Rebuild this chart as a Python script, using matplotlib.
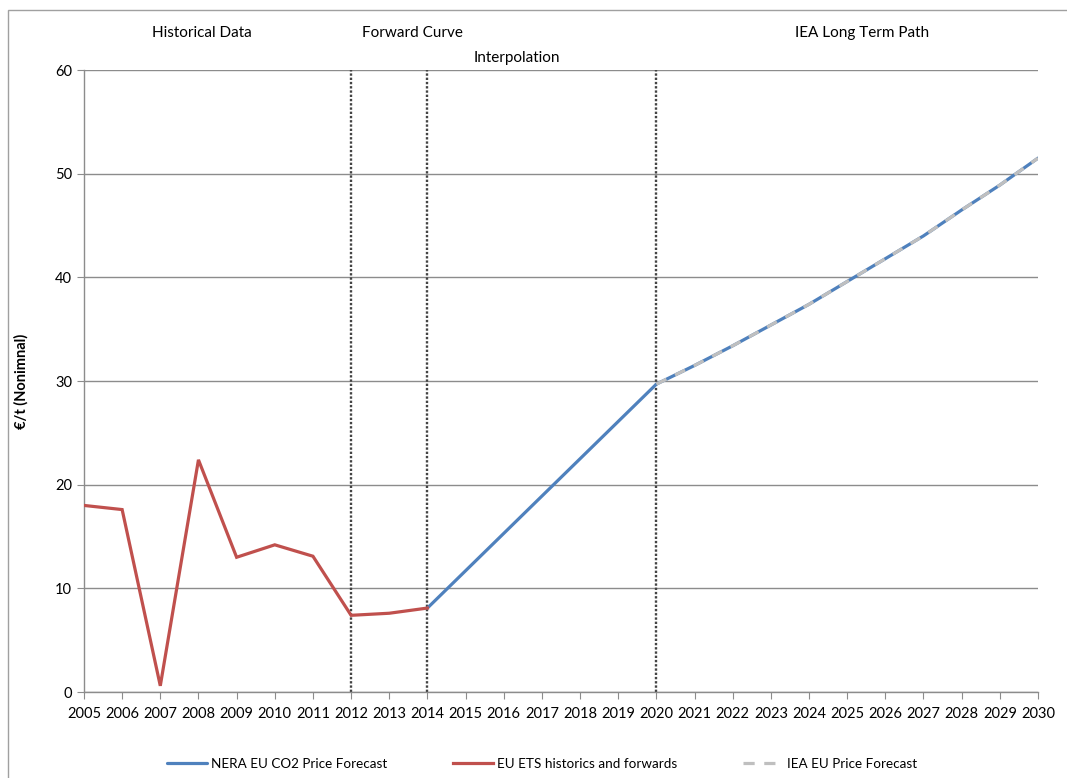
import matplotlib.pyplot as plt
from matplotlib.patches import Rectangle

plt.rcParams['font.family'] = ['Lato', 'DejaVu Sans']

# EU ETS historics and forwards
ets_years = [2005, 2006, 2007, 2008, 2009, 2010, 2011, 2012, 2013, 2014]
ets_price = [18.0, 17.6, 0.6, 22.4, 13.0, 14.2, 13.1, 7.4, 7.6, 8.1]

# NERA EU CO2 price forecast
nera_years = [2014, 2015, 2016, 2017, 2018, 2019, 2020, 2021, 2022, 2023,
              2024, 2025, 2026, 2027, 2028, 2029, 2030]
nera_price = [8.1, 11.7, 15.3, 18.9, 22.5, 26.1, 29.7, 31.5, 33.4, 35.4,
              37.4, 39.6, 41.8, 44.0, 46.5, 48.9, 51.5]

# IEA EU price forecast
iea_years = [2020, 2021, 2022, 2023, 2024, 2025, 2026, 2027, 2028, 2029, 2030]
iea_price = [29.7, 31.5, 33.4, 35.4, 37.4, 39.6, 41.8, 44.0, 46.5, 48.9, 51.5]

period_breaks = [2012, 2014, 2020]
year_ticks = list(range(2005, 2031))

fig = plt.figure(figsize=(10.67, 7.78), dpi=100)
ax = fig.add_axes([0.0787, 0.1105, 0.8941, 0.7995])

# outer frame of the chart
fig.patches.append(Rectangle((0.0075, -0.05), 1.1, 1.037, transform=fig.transFigure,
                             fill=False, edgecolor='#a0a0a0', linewidth=1.0))

ax.plot(nera_years, nera_price, color='#4F81BD', lw=2.3, label='NERA EU CO2 Price Forecast',
        solid_capstyle='round', zorder=3)
ax.plot(ets_years, ets_price, color='#C0504D', lw=2.3, label='EU ETS historics and forwards',
        solid_joinstyle='miter', zorder=4)
ax.plot(iea_years, iea_price, color='#BFBFBF', lw=2.3, dashes=(3.5, 3),
        label='IEA EU Price Forecast', zorder=5)

for b in period_breaks:
    ax.axvline(b, ymin=0, ymax=1, color='#444444', lw=1.7, ls=(0, (1, 0.8)), zorder=2)

ax.set_xlim(2005, 2030)
ax.set_ylim(0, 60)
ax.set_yticks(range(0, 61, 10))
ax.set_xticks(year_ticks)
ax.set_xticklabels([str(y) for y in year_ticks])
ax.yaxis.grid(True, color='#8c8c8c', lw=1.0)
ax.set_axisbelow(True)
for s in ['top', 'right']:
    ax.spines[s].set_visible(False)
for s in ['left', 'bottom']:
    ax.spines[s].set_color('#8c8c8c')
    ax.spines[s].set_linewidth(1.0)
ax.tick_params(axis='both', colors='#8c8c8c', labelcolor='black', labelsize=10.5, length=5)
ax.tick_params(axis='x', pad=6)
ax.set_ylabel('€/t (Nonimnal)', fontsize=10.5, fontweight='bold', labelpad=19)

# period labels above the plot
ax.text(2008.1, 63.6, 'Historical Data', ha='center', va='center', fontsize=11)
ax.text(2013.6, 63.6, 'Forward Curve', ha='center', va='center', fontsize=11)
ax.text(2016.35, 61.2, 'Interpolation', ha='center', va='center', fontsize=11)
ax.text(2025.4, 63.6, 'IEA Long Term Path', ha='center', va='center', fontsize=11)

fig.legend(loc='center', bbox_to_anchor=(0.508, 0.018), ncol=3, frameon=False,
           fontsize=9.75, handlelength=3.0, columnspacing=4.8, handletextpad=0.3)

plt.savefig('out.png', dpi=100)
